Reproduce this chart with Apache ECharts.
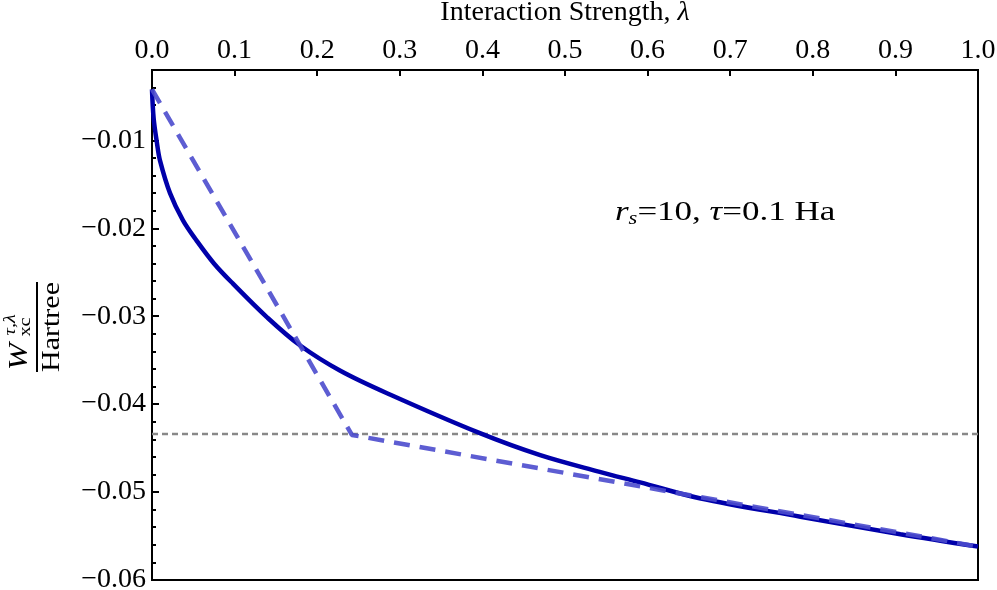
<!DOCTYPE html>
<html>
<head>
  <meta charset="UTF-8">
  <title>W_xc vs interaction strength</title>
  <script src="https://cdn.jsdelivr.net/npm/echarts@6.0.0/dist/echarts.min.js"></script>
  <style>
    html, body { margin: 0; padding: 0; background: #fff; }
    #chart { width: 997px; height: 590px; }
  </style>
</head>
<body>
  <div id="chart"></div>
  <script>
    // values (lambda, W in Hartree)
    const solidLambda = [0, 0.002, 0.006, 0.0097, 0.0218, 0.0375, 0.054, 0.075, 0.098, 0.139, 0.179,
      0.228, 0.288, 0.397, 0.47, 0.542, 0.591, 0.663, 0.785, 0.906, 1.0];
    const solidW = [-0.0042, -0.0075, -0.0103, -0.0123, -0.016, -0.0191, -0.0214, -0.024, -0.0263, -0.0301, -0.0333,
      -0.0362, -0.0389, -0.0433, -0.0458, -0.0477, -0.0489, -0.0507, -0.0528, -0.0548, -0.0562];
    const dashLambda = [0, 0.242, 0.57, 1.0];
    const dashW = [-0.0042, -0.0435, -0.049, -0.0562];
    const refLambda = [0, 1];
    const refW = [-0.0434, -0.0434];
    const xTicks = [0, 0.1, 0.2, 0.3, 0.4, 0.5, 0.6, 0.7, 0.8, 0.9, 1.0];
    const yTicks = [-0.06, -0.05, -0.04, -0.03, -0.02, -0.01];

    const serif = 'Liberation Serif';
    const pairs = (xs, ys) => xs.map((x, i) => [x, ys[i]]);

    const chart = echarts.init(document.getElementById('chart'));
    chart.setOption({
      animation: false,
      grid: {
        left: 152, top: 70, right: 19, bottom: 10,
        outerBoundsMode: 'none',
        containLabel: false,
        show: true, borderColor: '#000', borderWidth: 2
      },
      xAxis: {
        type: 'value',
        position: 'top',
        min: 0, max: 1, interval: 0.1,
        name: '{n|Interaction Strength, }{i|λ}',
        nameLocation: 'middle',
        nameGap: 43,
        nameTextStyle: {
          rich: {
            n: { fontFamily: serif, fontSize: 28, color: '#000' },
            i: { fontFamily: serif, fontSize: 28, fontStyle: 'italic', color: '#000' }
          }
        },
        axisLine: { show: true, onZero: false, lineStyle: { color: '#000', width: 2 } },
        axisTick: { show: true, inside: true, length: 6, lineStyle: { color: '#000', width: 2 } },
        minorTick: { show: false },
        splitLine: { show: false },
        axisLabel: {
          margin: 5,
          fontFamily: serif, fontSize: 28, color: '#000',
          formatter: v => xTicks.some(t => Math.abs(t - v) < 1e-9) ? v.toFixed(1) : ''
        }
      },
      yAxis: {
        type: 'value',
        min: -0.06, max: -0.002, interval: 0.01,
        axisLine: { show: true, onZero: false, lineStyle: { color: '#000', width: 2 } },
        axisTick: { show: true, inside: true, length: 7, lineStyle: { color: '#000', width: 2 } },
        minorTick: { show: true, splitNumber: 5, length: 4, lineStyle: { color: '#000', width: 2 } },
        splitLine: { show: false },
        axisLabel: {
          margin: 6,
          showMaxLabel: false,
          fontFamily: serif, fontSize: 28, color: '#000',
          formatter: v => {
            const t = yTicks.find(t => Math.abs(t - v) < 1e-9);
            return t === undefined ? '' : '\u2212' + Math.abs(t).toFixed(2);
          }
        }
      },
      series: [
        {
          name: 'reference',
          type: 'line',
          data: pairs(refLambda, refW),
          symbol: 'none',
          lineStyle: { color: '#888', width: 2.5, type: [6, 4] },
          z: 2
        },
        {
          name: 'exact',
          type: 'line',
          data: pairs(solidLambda, solidW),
          symbol: 'none',
          smooth: 0.35,
          lineStyle: { color: '#0000aa', width: 4.5 },
          z: 3
        },
        {
          name: 'approx',
          type: 'line',
          data: pairs(dashLambda, dashW),
          symbol: 'none',
          lineStyle: { color: 'rgba(75,75,205,0.9)', width: 4.5, type: [16, 10] },
          z: 4
        }
      ],
      graphic: [
        {
          type: 'text',
          x: 615, y: 198,
          scaleX: 1.25,
          style: {
            text: '{i|r}{s|s}{n|=10, }{i|τ}{n|=0.1 Ha}',
            rich: {
              i: { fontFamily: serif, fontSize: 28, fontStyle: 'italic', fill: '#000' },
              s: { fontFamily: serif, fontSize: 18, fontStyle: 'italic', fill: '#000', padding: [12, 0, 0, 0] },
              n: { fontFamily: serif, fontSize: 28, fill: '#000' }
            }
          }
        },
        {
          // y axis title: W^{τ,λ}_xc / Hartree, rotated
          type: 'group',
          x: 37, y: 327,
          rotation: Math.PI / 2,
          scaleX: 1.2,
          children: [
            { type: 'line', shape: { x1: -37.5, y1: 0, x2: 37.5, y2: 0 }, style: { stroke: '#000', lineWidth: 2 } },
            {
              type: 'text', x: 0, y: 3,
              style: { text: 'Hartree', fontFamily: serif, fontSize: 25, fill: '#000', align: 'center', verticalAlign: 'top' }
            },
            {
              type: 'text', x: -36, y: -4,
              style: { text: 'W', fontFamily: serif, fontSize: 27, fontStyle: 'italic', fill: '#000', align: 'left', verticalAlign: 'bottom' }
            },
            {
              type: 'text', x: -7, y: -18,
              style: { text: 'τ,λ', fontFamily: serif, fontSize: 17, fontStyle: 'italic', fill: '#000', align: 'left', verticalAlign: 'bottom' }
            },
            {
              type: 'text', x: -8, y: -3,
              style: { text: 'xc', fontFamily: serif, fontSize: 17, fill: '#000', align: 'left', verticalAlign: 'bottom' }
            }
          ]
        }
      ]
    });
  </script>
</body>
</html>
